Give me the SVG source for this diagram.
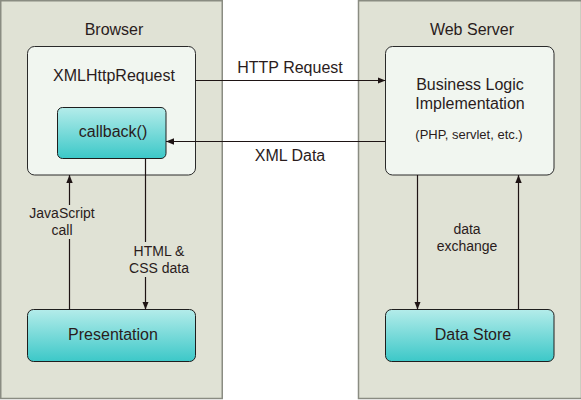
<svg xmlns="http://www.w3.org/2000/svg" width="581" height="400" viewBox="0 0 581 400">
<defs>
<linearGradient id="teal" x1="0" y1="0" x2="0" y2="1">
<stop offset="0" stop-color="#b4ecea"/>
<stop offset="1" stop-color="#3cc8c8"/>
</linearGradient>
<marker id="arr" viewBox="0 0 8 8" refX="8" refY="4" markerWidth="8" markerHeight="8" markerUnits="userSpaceOnUse" orient="auto">
<path d="M0,0.8 L8,4 L0,7.2 z" fill="#1e1414"/>
</marker>
<style>
.panel{fill:#e0e2d5;stroke:#8a8c82;stroke-width:1.5}
.box{fill:#f1f6f0;stroke:#2a2a2a;stroke-width:1}
.tbox{fill:url(#teal);stroke:#1e1e1e;stroke-width:1}
text{font-family:"Liberation Sans",Arial,sans-serif;fill:#2a1c1c;text-anchor:middle}
.t16{font-size:16px}
.t14{font-size:14px}
.t13{font-size:13px}
.conn line{stroke:#1e1414;stroke-width:1.2;fill:none}
.lblbg{fill:#e0e2d5}
</style>
</defs>
<rect x="0" y="0" width="581" height="400" fill="#ffffff"/>
<g id="browser-panel">
<rect class="panel" x="0.75" y="0.75" width="221.5" height="397.75"/>
<text class="t16" x="114" y="34.5">Browser</text>
</g>
<g id="server-panel">
<rect class="panel" x="358.5" y="0.75" width="223" height="397.75"/>
<text class="t16" x="472" y="34.5">Web Server</text>
</g>
<g id="xmlhttprequest">
<rect class="box" x="27.5" y="46.5" width="168" height="128.5" rx="7"/>
<text class="t16" x="114" y="81">XMLHttpRequest</text>
</g>
<g id="callback">
<rect class="tbox" x="57.5" y="107.5" width="108.5" height="51" rx="5"/>
<text class="t16" x="113" y="136.5">callback()</text>
</g>
<g id="presentation">
<rect class="tbox" x="27.5" y="309.5" width="168" height="52" rx="6"/>
<text class="t16" x="113" y="340">Presentation</text>
</g>
<g id="business-logic">
<rect class="box" x="385.5" y="46.5" width="168.5" height="128.5" rx="7"/>
<text class="t16" x="470" y="90">Business Logic</text>
<text class="t16" x="470" y="109">Implementation</text>
<text class="t13" x="469" y="139">(PHP, servlet, etc.)</text>
</g>
<g id="data-store">
<rect class="tbox" x="385.5" y="309.5" width="168.5" height="52" rx="6"/>
<text class="t16" x="473" y="340">Data Store</text>
</g>
<g class="conn" id="connectors">
<line x1="195.5" y1="80.5" x2="385.5" y2="80.5" marker-end="url(#arr)"/>
<line x1="385.5" y1="141.5" x2="166" y2="141.5" marker-end="url(#arr)"/>
<line x1="145.5" y1="158.5" x2="145.5" y2="309.5" marker-end="url(#arr)"/>
<line x1="69.5" y1="309.5" x2="69.5" y2="175" marker-end="url(#arr)"/>
<line x1="417.5" y1="175" x2="417.5" y2="309.5" marker-end="url(#arr)"/>
<line x1="518.5" y1="309.5" x2="518.5" y2="175" marker-end="url(#arr)"/>
<rect class="lblbg" x="26" y="205" width="70" height="34"/>
<rect class="lblbg" x="126" y="242" width="66" height="35"/>
<text class="t16" x="290" y="73">HTTP Request</text>
<text class="t16" x="290" y="161">XML Data</text>
<text class="t14" x="62" y="218">JavaScript</text>
<text class="t14" x="62" y="235">call</text>
<text class="t14" x="159" y="256">HTML &amp;</text>
<text class="t14" x="159" y="272.5">CSS data</text>
<text class="t14" x="467" y="234">data</text>
<text class="t14" x="467" y="251">exchange</text>
</g>
</svg>
